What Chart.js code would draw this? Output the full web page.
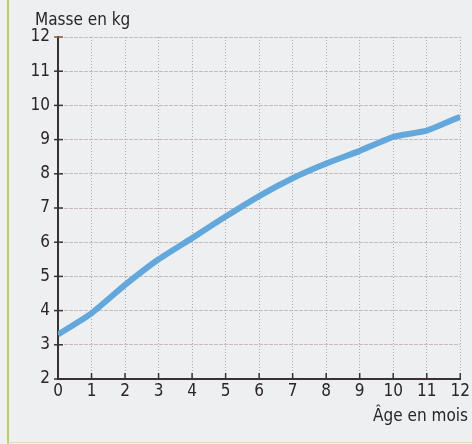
<!DOCTYPE html>
<html>
<head>
<meta charset="utf-8">
<script src="https://cdn.jsdelivr.net/npm/chart.js@4.4.0/dist/chart.umd.min.js"></script>
<style>
  html, body { margin: 0; padding: 0; background: #edeff1; }
  #wrap { position: relative; width: 472px; height: 444px; }
  #edge { position: absolute; left: 7px; top: 0; width: 2px; height: 444px; background: #b9cf5a; }
  #foot { position: absolute; left: 7px; top: 442px; width: 465px; height: 1px; background: #e2dcb8; }
  canvas { position: absolute; left: 0; top: 0; }
</style>
</head>
<body>
<div id="wrap">
  <canvas id="chart" width="472" height="444"></canvas>
  <div id="edge"></div>
  <div id="foot"></div>
</div>
<script>
const ages = [0, 1, 2, 3, 4, 5, 6, 7, 8, 9, 10, 11, 12];
const masses = [3.3, 3.92, 4.75, 5.5, 6.12, 6.75, 7.35, 7.87, 8.3, 8.67, 9.08, 9.26, 9.67];
const yTitle = "Masse en kg";
const xTitle = "Âge en mois";

const FONT = "'DejaVu Sans Condensed', 'Liberation Sans Narrow', sans-serif";
const axisColor = "#3a3132";

// small tick marks crossing the axes + axis titles
const extras = {
  id: "extras",
  afterDraw(chart) {
    const { ctx, chartArea, scales } = chart;
    ctx.save();
    ctx.lineWidth = 1.5;
    scales.y.ticks.forEach((t) => {
      const y = scales.y.getPixelForValue(t.value);
      ctx.strokeStyle = t.value === 12 ? "#8a5a3c" : axisColor;
      ctx.beginPath();
      ctx.moveTo(chartArea.left - 4, y);
      ctx.lineTo(chartArea.left + 5, y);
      ctx.stroke();
    });
    ctx.strokeStyle = axisColor;
    scales.x.ticks.forEach((t) => {
      const x = scales.x.getPixelForValue(t.value);
      ctx.beginPath();
      ctx.moveTo(x, chartArea.bottom - 6);
      ctx.lineTo(x, chartArea.bottom);
      ctx.stroke();
    });
    ctx.fillStyle = "#2b2526";
    ctx.font = "17px " + FONT;
    ctx.textBaseline = "alphabetic";
    ctx.textAlign = "left";
    ctx.fillText(yTitle, 35, 25);
    ctx.textAlign = "right";
    ctx.fillText(xTitle, chart.width - 4, 421);
    ctx.restore();
  },
};

new Chart(document.getElementById("chart"), {
  type: "line",
  data: {
    labels: ages,
    datasets: [
      {
        data: masses,
        borderColor: "#62a8dc",
        borderWidth: 6,
        pointRadius: 0,
        tension: 0.15,
        borderCapStyle: "butt",
      },
    ],
  },
  options: {
    responsive: false,
    animation: false,
    layout: { padding: { left: 0, top: 37, right: 11, bottom: 0 } },
    plugins: { legend: { display: false }, tooltip: { enabled: false } },
    scales: {
      x: {
        type: "linear",
        min: 0,
        max: 12,
        ticks: { stepSize: 1, color: "#2b2526", font: { family: FONT, size: 17 }, padding: 2 },
        grid: { drawTicks: false, color: "rgba(140,140,145,0.7)", lineWidth: 1 },
        border: { color: axisColor, width: 2, dash: [1, 2] },
        afterFit(scale) { scale.height = 65; },
      },
      y: {
        min: 2,
        max: 12,
        ticks: { stepSize: 1, color: "#2b2526", font: { family: FONT, size: 17 }, padding: 8 },
        grid: { drawTicks: false, color: "rgba(175,155,155,0.6)", lineWidth: 1 },
        border: { color: axisColor, width: 2, dash: [4, 1] },
        afterFit(scale) { scale.width = 58; },
      },
    },
  },
  plugins: [extras],
});
</script>
</body>
</html>
